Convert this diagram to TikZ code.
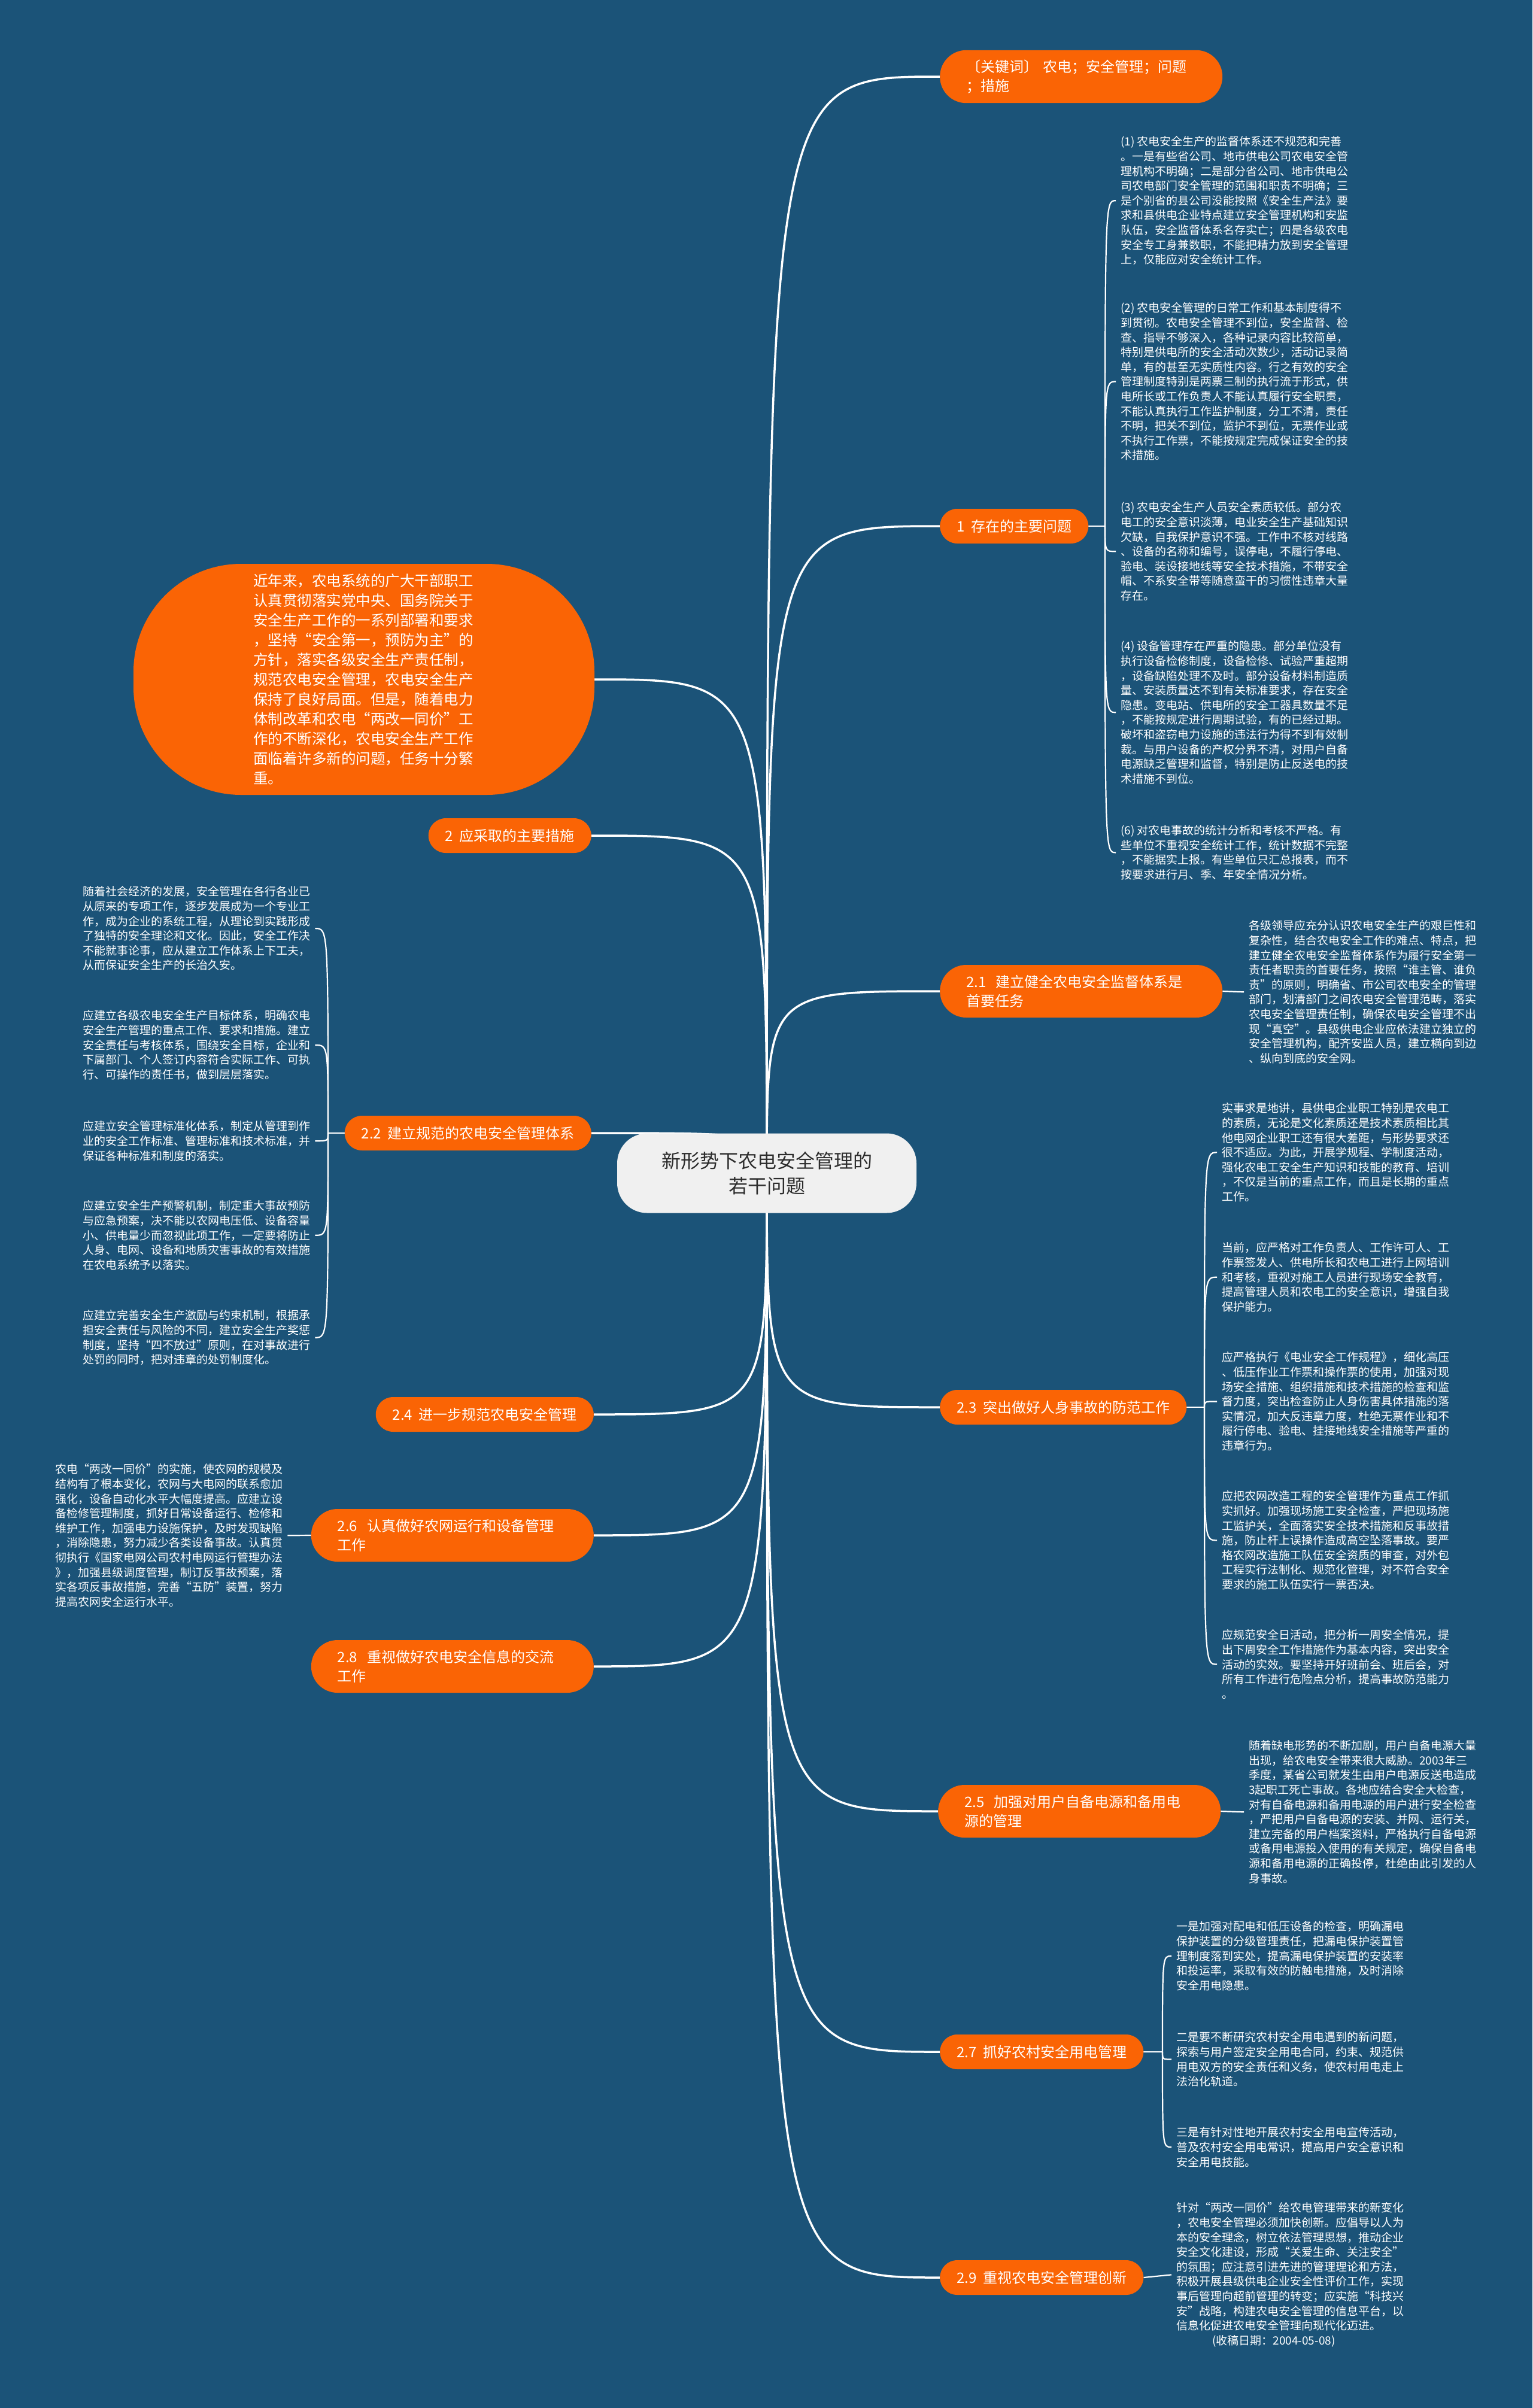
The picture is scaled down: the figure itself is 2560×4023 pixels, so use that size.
\documentclass[tikz,border=0pt]{standalone}
\usepackage{fontspec}
\setmainfont{Noto Sans CJK SC}
\usetikzlibrary{backgrounds}
\definecolor{bg}{RGB}{27,83,120}
\definecolor{org}{RGB}{250,100,5}
\definecolor{cnode}{RGB}{240,240,240}
\definecolor{ctext}{RGB}{45,45,45}
\tikzset{
  bstyle/.style={fill=org, text=white, font=\fontsize{24}{32}\selectfont, align=left},
  bone/.style={bstyle, inner xsep=28pt, inner ysep=0pt, minimum height=58pt, rounded corners=29pt},
  btwo/.style={bstyle, text width=384pt, inner xsep=44pt, inner ysep=16pt, minimum height=88pt, rounded corners=44pt},
  leaf/.style={text=white, font=\fontsize{19}{24.6}\selectfont, align=left, inner xsep=8pt, inner ysep=0pt, anchor=north west},
  edge/.style={draw=white, line width=3.5pt},
  twig/.style={draw=white, line width=2.2pt}
}
\begin{document}
\begin{tikzpicture}[x=1pt,y=-1pt]
\begin{scope}[on background layer]
\fill[bg] (0,0) rectangle (2560,4023);
\end{scope}
\useasboundingbox (0,0) rectangle (2560,4023);

% center
\node[fill=cnode, text=ctext, font=\fontsize{32}{42}\selectfont, align=center,
      minimum width=500pt, minimum height=133pt, rounded corners=50pt] (c) at (1281,1960)
      {新形势下农电安全管理的\\若干问题};

% right branches
\node[btwo, anchor=west] (kw) at (1570,128) {〔关键词〕~农电；安全管理；问题\\；措施};
\node[bone, anchor=west] (n1) at (1570,879) {1~~存在的主要问题};
\node[btwo, anchor=west] (b21) at (1570,1656) {2.1~~建立健全农电安全监督体系是\\首要任务};
\node[bone, anchor=west] (b23) at (1570,2351) {2.3~~突出做好人身事故的防范工作};
\node[btwo, anchor=west] (b25) at (1567,3026) {2.5~~加强对用户自备电源和备用电\\源的管理};
\node[bone, anchor=west] (b27) at (1570,3428) {2.7~~抓好农村安全用电管理};
\node[bone, anchor=west] (b29) at (1570,3805) {2.9~~重视农电安全管理创新};

% left branches
\node[fill=org, text=white, font=\fontsize{24.5}{33}\selectfont, align=left, text width=370pt,
      minimum width=770pt, minimum height=386pt, rounded corners=180pt] (intro) at (608,1135)
 {近年来，农电系统的广大干部职工\\
  认真贯彻落实党中央、国务院关于\\
  安全生产工作的一系列部署和要求\\
  ，坚持“安全第一，预防为主”的\\
  方针，落实各级安全生产责任制，\\
  规范农电安全管理，农电安全生产\\
  保持了良好局面。但是，随着电力\\
  体制改革和农电“两改一同价”工\\
  作的不断深化，农电安全生产工作\\
  面临着许多新的问题，任务十分繁\\
  重。};
\node[bone, anchor=east] (n2) at (988,1396) {2~~应采取的主要措施};
\node[bone, anchor=east] (b22) at (988,1893) {2.2~~建立规范的农电安全管理体系};
\node[bone, anchor=east] (b24) at (992,2363) {2.4~~进一步规范农电安全管理};
\node[btwo, anchor=east] (b26) at (992,2565) {2.6~~认真做好农网运行和设备管理\\工作};
\node[btwo, anchor=east] (b28) at (992,2784) {2.8~~重视做好农电安全信息的交流\\工作};

% leaves of 1
\node[leaf] (l1) at (1864,227.5) {(1) 农电安全生产的监督体系还不规范和完善\\
。一是有些省公司、地市供电公司农电安全管\\
理机构不明确；二是部分省公司、地市供电公\\
司农电部门安全管理的范围和职责不明确；三\\
是个别省的县公司没能按照《安全生产法》要\\
求和县供电企业特点建立安全管理机构和安监\\
队伍，安全监督体系名存实亡；四是各级农电\\
安全专工身兼数职，不能把精力放到安全管理\\
上，仅能应对安全统计工作。};
\node[leaf] (l2) at (1864,505.5) {(2) 农电安全管理的日常工作和基本制度得不\\
到贯彻。农电安全管理不到位，安全监督、检\\
查、指导不够深入，各种记录内容比较简单，\\
特别是供电所的安全活动次数少，活动记录简\\
单，有的甚至无实质性内容。行之有效的安全\\
管理制度特别是两票三制的执行流于形式，供\\
电所长或工作负责人不能认真履行安全职责，\\
不能认真执行工作监护制度，分工不清，责任\\
不明，把关不到位，监护不到位，无票作业或\\
不执行工作票，不能按规定完成保证安全的技\\
术措施。};
\node[leaf] (l3) at (1864,838.5) {(3) 农电安全生产人员安全素质较低。部分农\\
电工的安全意识淡薄，电业安全生产基础知识\\
欠缺，自我保护意识不强。工作中不核对线路\\
、设备的名称和编号，误停电，不履行停电、\\
验电、装设接地线等安全技术措施，不带安全\\
帽、不系安全带等随意蛮干的习惯性违章大量\\
存在。};
\node[leaf] (l4) at (1864,1070.5) {(4) 设备管理存在严重的隐患。部分单位没有\\
执行设备检修制度，设备检修、试验严重超期\\
，设备缺陷处理不及时。部分设备材料制造质\\
量、安装质量达不到有关标准要求，存在安全\\
隐患。变电站、供电所的安全工器具数量不足\\
，不能按规定进行周期试验，有的已经过期。\\
破坏和盗窃电力设施的违法行为得不到有效制\\
裁。与用户设备的产权分界不清，对用户自备\\
电源缺乏管理和监督，特别是防止反送电的技\\
术措施不到位。};
\node[leaf] (l6) at (1864,1378.5) {(6) 对农电事故的统计分析和考核不严格。有\\
些单位不重视安全统计工作，统计数据不完整\\
，不能据实上报。有些单位只汇总报表，而不\\
按要求进行月、季、年安全情况分析。};

% leaf 2.1
\node[leaf] (l21) at (2078,1537.5) {各级领导应充分认识农电安全生产的艰巨性和\\
复杂性，结合农电安全工作的难点、特点，把\\
建立健全农电安全监督体系作为履行安全第一\\
责任者职责的首要任务，按照“谁主管、谁负\\
责”的原则，明确省、市公司农电安全的管理\\
部门，划清部门之间农电安全管理范畴，落实\\
农电安全管理责任制，确保农电安全管理不出\\
现“真空”。县级供电企业应依法建立独立的\\
安全管理机构，配齐安监人员，建立横向到边\\
、纵向到底的安全网。};

% leaves 2.3
\node[leaf] (l23a) at (2033,1842.5) {实事求是地讲，县供电企业职工特别是农电工\\
的素质，无论是文化素质还是技术素质相比其\\
他电网企业职工还有很大差距，与形势要求还\\
很不适应。为此，开展学规程、学制度活动，\\
强化农电工安全生产知识和技能的教育、培训\\
，不仅是当前的重点工作，而且是长期的重点\\
工作。};
\node[leaf] (l23b) at (2033,2075.5) {当前，应严格对工作负责人、工作许可人、工\\
作票签发人、供电所长和农电工进行上网培训\\
和考核，重视对施工人员进行现场安全教育，\\
提高管理人员和农电工的安全意识，增强自我\\
保护能力。};
\node[leaf] (l23c) at (2033,2258.5) {应严格执行《电业安全工作规程》，细化高压\\
、低压作业工作票和操作票的使用，加强对现\\
场安全措施、组织措施和技术措施的检查和监\\
督力度，突出检查防止人身伤害具体措施的落\\
实情况，加大反违章力度，杜绝无票作业和不\\
履行停电、验电、挂接地线安全措施等严重的\\
违章行为。};
\node[leaf] (l23d) at (2033,2490.5) {应把农网改造工程的安全管理作为重点工作抓\\
实抓好。加强现场施工安全检查，严把现场施\\
工监护关，全面落实安全技术措施和反事故措\\
施，防止杆上误操作造成高空坠落事故。要严\\
格农网改造施工队伍安全资质的审查，对外包\\
工程实行法制化、规范化管理，对不符合安全\\
要求的施工队伍实行一票否决。};
\node[leaf] (l23e) at (2033,2722.5) {应规范安全日活动，把分析一周安全情况，提\\
出下周安全工作措施作为基本内容，突出安全\\
活动的实效。要坚持开好班前会、班后会，对\\
所有工作进行危险点分析，提高事故防范能力\\
。};

% leaf 2.5
\node[leaf] (l25) at (2078,2907.5) {随着缺电形势的不断加剧，用户自备电源大量\\
出现，给农电安全带来很大威胁。2003年三\\
季度，某省公司就发生由用户电源反送电造成\\
3起职工死亡事故。各地应结合安全大检查，\\
对有自备电源和备用电源的用户进行安全检查\\
，严把用户自备电源的安装、并网、运行关，\\
建立完备的用户档案资料，严格执行自备电源\\
或备用电源投入使用的有关规定，确保自备电\\
源和备用电源的正确投停，杜绝由此引发的人\\
身事故。};

% leaves 2.7
\node[leaf] (l27a) at (1957,3209.5) {一是加强对配电和低压设备的检查，明确漏电\\
保护装置的分级管理责任，把漏电保护装置管\\
理制度落到实处，提高漏电保护装置的安装率\\
和投运率，采取有效的防触电措施，及时消除\\
安全用电隐患。};
\node[leaf] (l27b) at (1957,3394.5) {二是要不断研究农村安全用电遇到的新问题，\\
探索与用户签定安全用电合同，约束、规范供\\
用电双方的安全责任和义务，使农村用电走上\\
法治化轨道。};
\node[leaf] (l27c) at (1957,3553.5) {三是有针对性地开展农村安全用电宣传活动，\\
普及农村安全用电常识，提高用户安全意识和\\
安全用电技能。};

% leaf 2.9
\node[leaf] (l29) at (1957,3679.5) {针对“两改一同价”给农电管理带来的新变化\\
，农电安全管理必须加快创新。应倡导以人为\\
本的安全理念，树立依法管理思想，推动企业\\
安全文化建设，形成“关爱生命、关注安全”\\
的氛围；应注意引进先进的管理理论和方法，\\
积极开展县级供电企业安全性评价工作，实现\\
事后管理向超前管理的转变；应实施“科技兴\\
安”战略，构建农电安全管理的信息平台，以\\
信息化促进农电安全管理向现代化迈进。\\
\hspace*{60pt}(收稿日期：2004-05-08)};

% leaves 2.2
\node[leaf] (l22a) at (130,1480.5) {随着社会经济的发展，安全管理在各行各业已\\
从原来的专项工作，逐步发展成为一个专业工\\
作，成为企业的系统工程，从理论到实践形成\\
了独特的安全理论和文化。因此，安全工作决\\
不能就事论事，应从建立工作体系上下工夫，\\
从而保证安全生产的长治久安。};
\node[leaf] (l22b) at (130,1687.5) {应建立各级农电安全生产目标体系，明确农电\\
安全生产管理的重点工作、要求和措施。建立\\
安全责任与考核体系，围绕安全目标，企业和\\
下属部门、个人签订内容符合实际工作、可执\\
行、可操作的责任书，做到层层落实。};
\node[leaf] (l22c) at (130,1872.5) {应建立安全管理标准化体系，制定从管理到作\\
业的安全工作标准、管理标准和技术标准，并\\
保证各种标准和制度的落实。};
\node[leaf] (l22d) at (130,2005.5) {应建立安全生产预警机制，制定重大事故预防\\
与应急预案，决不能以农网电压低、设备容量\\
小、供电量少而忽视此项工作，一定要将防止\\
人身、电网、设备和地质灾害事故的有效措施\\
在农电系统予以落实。};
\node[leaf] (l22e) at (130,2188.5) {应建立完善安全生产激励与约束机制，根据承\\
担安全责任与风险的不同，建立安全生产奖惩\\
制度，坚持“四不放过”原则，在对事故进行\\
处罚的同时，把对违章的处罚制度化。};

% leaf 2.6
\node[leaf] (l26) at (84,2445.5) {农电“两改一同价”的实施，使农网的规模及\\
结构有了根本变化，农网与大电网的联系愈加\\
强化，设备自动化水平大幅度提高。应建立设\\
备检修管理制度，抓好日常设备运行、检修和\\
维护工作，加强电力设施保护，及时发现缺陷\\
，消除隐患，努力减少各类设备事故。认真贯\\
彻执行《国家电网公司农村电网运行管理办法\\
》，加强县级调度管理，制订反事故预案，落\\
实各项反事故措施，完善“五防”装置，努力\\
提高农网安全运行水平。};

\coordinate (j1) at (1846,879);
\coordinate (j23) at (2012,2351);
\coordinate (j27) at (1942,3428);
\coordinate (j22) at (548,1893);

\begin{scope}[on background layer]
% main edges
\foreach \t in {kw,n1,b21,b23,b25,b27,b29}
  \draw[edge] (c.center) .. controls (c.center |- \t.west) .. (\t.west);
\foreach \t in {intro,n2,b22,b24,b26,b28}
  \draw[edge] (c.center) .. controls (c.center |- \t.east) .. (\t.east);
% twigs
\draw[twig] (n1.east) -- (j1);
\foreach \t in {l1,l2,l3,l4,l6}
  \draw[twig] (j1) .. controls (j1 |- \t.west) .. (\t.west);
\draw[twig] (b21.east) -- (l21.west);
\draw[twig] (b23.east) -- (j23);
\foreach \t in {l23a,l23b,l23c,l23d,l23e}
  \draw[twig] (j23) .. controls (j23 |- \t.west) .. (\t.west);
\draw[twig] (b25.east) -- (l25.west);
\draw[twig] (b27.east) -- (j27);
\foreach \t in {l27a,l27b,l27c}
  \draw[twig] (j27) .. controls (j27 |- \t.west) .. (\t.west);
\draw[twig] (b29.east) -- (l29.west);
\draw[twig] (b22.west) -- (j22);
\foreach \t in {l22a,l22b,l22c,l22d,l22e}
  \draw[twig] (j22) .. controls (j22 |- \t.east) .. (\t.east);
\draw[twig] (b26.west) -- (l26.east);
\end{scope}
\end{tikzpicture}
\end{document}
